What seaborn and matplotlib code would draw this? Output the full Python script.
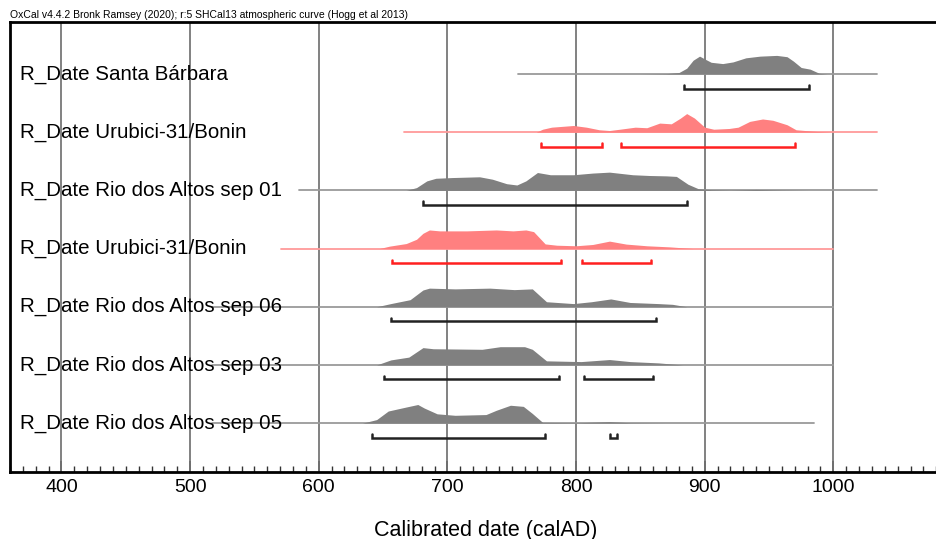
import numpy as np
import matplotlib
matplotlib.use("Agg")
import matplotlib.pyplot as plt
import seaborn as sns

# ===============================
# DATA
# ===============================
labels = [
    "R_Date Santa Bárbara",
    "R_Date Urubici-31/Bonin",
    "R_Date Rio dos Altos sep 01",
    "R_Date Urubici-31/Bonin",
    "R_Date Rio dos Altos sep 06",
    "R_Date Rio dos Altos sep 03",
    "R_Date Rio dos Altos sep 05",
]
highlight = [False, True, False, True, False, False, False]

# extent of the baseline (calAD)
line_start = [755, 666, 585, 571, 517, 517, 517]
line_end = [1034, 1034, 1034, 1000, 1000, 1000, 985]

# 95.4% ranges
ranges = [
    [(884, 981)],
    [(773, 820), (835, 970)],
    [(681, 886)],
    [(657, 788), (805, 858)],
    [(656, 862)],
    [(651, 787), (806, 860)],
    [(641, 776), (826, 832)],
]

# probability densities (year, relative height)
sb_years = [850, 870, 880, 886, 891, 896, 900, 905, 914, 922, 932, 943, 956, 964, 969, 975, 982, 989, 995]
sb_prob = [0.0, 0.02, 0.08, 0.31, 0.74, 0.96, 0.81, 0.63, 0.56, 0.65, 0.87, 0.96, 1.0, 0.93, 0.69, 0.35, 0.26, 0.04, 0.0]

u1_years = [769, 774, 781, 798, 808, 818, 826, 834, 846, 855, 865, 874, 881, 886, 892, 900, 907, 919, 926, 935, 945, 953, 964, 971, 987, 1000]
u1_prob = [0.0, 0.16, 0.27, 0.36, 0.27, 0.13, 0.09, 0.16, 0.27, 0.24, 0.49, 0.45, 0.75, 1.0, 0.76, 0.27, 0.16, 0.2, 0.27, 0.58, 0.71, 0.64, 0.4, 0.13, 0.04, 0.0]

r01_years = [668, 676, 684, 691, 704, 725, 735, 746, 754, 761, 770, 780, 798, 813, 826, 844, 857, 870, 878, 887, 895, 905, 920, 940, 960, 980]
r01_prob = [0.0, 0.15, 0.51, 0.65, 0.69, 0.73, 0.6, 0.36, 0.29, 0.51, 0.96, 0.84, 0.84, 0.93, 0.98, 0.84, 0.8, 0.78, 0.75, 0.33, 0.09, 0.04, 0.02, 0.05, 0.02, 0.0]

u2_years = [647, 655, 668, 676, 681, 686, 694, 715, 738, 751, 761, 767, 776, 785, 800, 813, 826, 839, 855, 873, 891]
u2_prob = [0.0, 0.13, 0.27, 0.5, 0.82, 1.0, 0.95, 0.95, 1.0, 0.95, 1.0, 0.91, 0.25, 0.18, 0.15, 0.22, 0.4, 0.24, 0.15, 0.09, 0.0]

s06_years = [645, 656, 671, 681, 686, 706, 733, 752, 766, 777, 798, 812, 827, 842, 864, 875, 886]
s06_prob = [0.0, 0.17, 0.38, 0.9, 1.0, 0.96, 1.0, 0.92, 0.96, 0.27, 0.17, 0.27, 0.42, 0.23, 0.17, 0.13, 0.0]

s03_years = [645, 656, 670, 681, 689, 727, 741, 760, 766, 777, 804, 826, 842, 864, 883]
s03_prob = [0.0, 0.27, 0.42, 0.93, 0.87, 0.84, 0.98, 0.98, 0.84, 0.22, 0.18, 0.29, 0.18, 0.11, 0.0]

s05_years = [634, 645, 654, 667, 677, 682, 692, 706, 730, 738, 749, 759, 766, 774, 801, 826, 842, 869]
s05_prob = [0.0, 0.19, 0.65, 0.85, 1.0, 0.81, 0.5, 0.42, 0.46, 0.69, 0.96, 0.9, 0.52, 0.04, 0.02, 0.08, 0.02, 0.0]

densities = [
    (sb_years, sb_prob),
    (u1_years, u1_prob),
    (r01_years, r01_prob),
    (u2_years, u2_prob),
    (s06_years, s06_prob),
    (s03_years, s03_prob),
    (s05_years, s05_prob),
]

tick_years = [400, 500, 600, 700, 800, 900, 1000]
title = "OxCal v4.4.2 Bronk Ramsey (2020); r:5 SHCal13 atmospheric curve (Hogg et al 2013)"

# ===============================
# PLOT
# ===============================
sns.set_style("white")
plt.rcParams["font.family"] = ["Liberation Sans", "DejaVu Sans"]
plt.rcParams["text.color"] = "black"
plt.rcParams["axes.labelcolor"] = "black"

fig = plt.figure(figsize=(9.36, 5.39), dpi=100)
# the original panel runs past the right edge of the picture
ax = fig.add_axes([10 / 936, 1 - 472 / 539, 952 / 936, 450 / 539])

peak = 0.32      # height of a density in row units
gap = 0.25       # bracket offset below baseline

for i, lab in enumerate(labels):
    y0 = -i
    red = highlight[i]
    fill_c = "#ff8080" if red else "#808080"
    line_c = "#ff9a9a" if red else "#9a9a9a"
    br_c = "#ff2020" if red else "#222222"

    sns.lineplot(x=[line_start[i], line_end[i]], y=[y0, y0], color=line_c,
                 lw=1.3, ax=ax, zorder=2)

    yrs, prob = densities[i]
    ax.fill_between(yrs, y0, y0 + peak * np.array(prob), color=fill_c,
                    lw=0, zorder=3)

    for a, b in ranges[i]:
        yb = y0 - gap
        ax.plot([a, a, b, b], [yb + 0.06, yb, yb, yb + 0.06], color=br_c,
                lw=1.8, solid_joinstyle="miter", zorder=4)

    ax.text(368, y0, lab, fontsize=14.8, va="center", ha="left", zorder=6,
            color="black")

ax.set_xlim(360, 1100)
ax.set_ylim(-6.84, 0.894)
ax.set_yticks([])

ax.set_xticks(tick_years)
ax.set_xticks(np.arange(360, 1101, 10), minor=True)
ax.tick_params(axis="x", which="major", bottom=True, direction="in", length=8,
               width=1.2, color="black", labelsize=14, labelcolor="black", pad=5)
ax.tick_params(axis="x", which="minor", bottom=True, direction="in", length=4,
               width=1, color="#333333")
for xv in tick_years:
    ax.axvline(xv, color="#777777", lw=1.3, zorder=1)

for s in ["top", "left", "bottom"]:
    ax.spines[s].set_color("black")
    ax.spines[s].set_linewidth(2)
ax.spines["right"].set_visible(False)

ax.set_xlabel("Calibrated date (calAD)", fontsize=15.5, labelpad=17)
fig.text(10 / 936, 1 - 15 / 539, title, fontsize=7.5, va="center", ha="left")

fig.savefig("out.png", dpi=100)
